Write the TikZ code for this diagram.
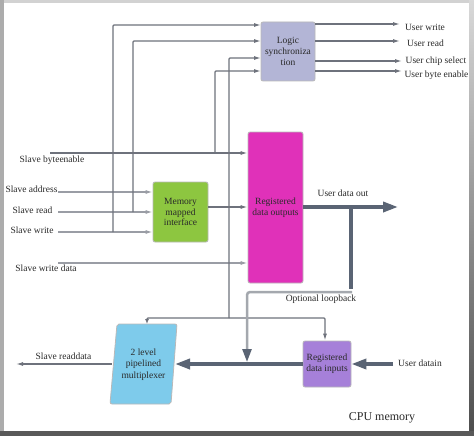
\documentclass[tikz,border=0pt]{standalone}
\usepackage{fontspec}
\setmainfont{Liberation Serif}
\newfontfamily\tnr{Liberation Serif}
\usetikzlibrary{arrows.meta,calc}
\definecolor{wirec}{HTML}{6E727C}
\definecolor{lwirec}{HTML}{9A9DA5}
\definecolor{busc}{HTML}{5A6474}
\definecolor{loopc}{HTML}{A4A8AE}
\definecolor{lsync}{HTML}{B3B5D6}
\definecolor{regout}{HTML}{E031B9}
\definecolor{mmic}{HTML}{8DC640}
\definecolor{regin}{HTML}{A680D9}
\definecolor{muxc}{HTML}{7ECBEB}
\definecolor{txt}{HTML}{2A2A2A}
\tikzset{
  lbl/.style={font=\tnr\fontsize{9.5}{11}\selectfont, text=txt, inner sep=0pt},
  blk/.style={draw=gray!55, line width=0.8pt, rounded corners=2pt, align=center,
              inner sep=1pt, font=\tnr\fontsize{9.5}{10.8}\selectfont, text=txt},
  wire/.style={draw=wirec, line width=1.2pt, rounded corners=1pt},
  warrow/.style={wire, -{Latex[length=7pt,width=4pt]}},
  lwarrow/.style={draw=lwirec, line width=1.2pt, -{Latex[length=7pt,width=4pt]}},
  bus/.style={draw=busc, line width=3.5pt},
  busarrow/.style={bus, -{Triangle[length=15pt,width=10pt]}},
}
\begin{document}
\begin{tikzpicture}[x=1pt,y=-1pt]
% frame
\useasboundingbox (0,0) rectangle (474,436);
\fill[gray!35] (0,0) rectangle (474,436);
\fill[gray!65] (0,0) rectangle (4,436);
\shade[top color=gray!30, bottom color=black!70] (469,0) rectangle (474,436);
\fill[black!65] (0,431) rectangle (474,436);
\fill[white] (4,3) rectangle (469,431);

% blocks
\node[blk, fill=lsync, minimum width=54pt, minimum height=59pt] (ls) at (288,51.5) {Logic\\synchroniza\\tion};
\node[blk, fill=regout, minimum width=55pt, minimum height=151pt] (rdo) at (275.5,207.5) {Registered\\data outputs};
\node[blk, fill=mmic, minimum width=55pt, minimum height=60pt] (mmi) at (180.5,212) {Memory\\mapped\\interface};
\node[blk, fill=regin, minimum width=48pt, minimum height=46pt] (rdi) at (327,364) {Registered\\data inputs};
\draw[fill=muxc, draw=gray!55, line width=0.8pt, rounded corners=2pt]
  (110,404) -- (117,324) -- (177,324) -- (171,404) -- cycle;
\node[lbl, align=center, font=\tnr\fontsize{9.5}{11.5}\selectfont] (mux) at (143.5,364.5) {2 level\\pipelined\\multiplexer};
\coordinate (muxN) at (147,324);
\coordinate (muxE) at (175,364);
\coordinate (muxW) at (112,364);

% left labels
\node[lbl] (lbe) at (52,160) {Slave byteenable};
\node[lbl] (lad) at (31.5,189) {Slave address};
\node[lbl] (lrd) at (32.5,210) {Slave read};
\node[lbl] (lwr) at (32,230) {Slave write};
\node[lbl] (lwd) at (46,268) {Slave write data};
\node[lbl] (lrdd) at (63.5,356) {Slave readdata};
% right labels
\node[lbl] (uw) at (425,27) {User write};
\node[lbl] (ur) at (425.5,43) {User read};
\node[lbl] (ucs) at (436,61) {User chip select};
\node[lbl] (ube) at (436.5,75.5) {User byte enable};
\node[lbl] (udo) at (343,193) {User data out};
\node[lbl] (uol) at (321,299) {Optional loopback};
\node[lbl] (udi) at (420,363) {User datain};
\node[lbl, font=\tnr\fontsize{12}{14}\selectfont] (cpu) at (382,418) {CPU memory};

% coordinates
\coordinate (sa) at (58,192);
\coordinate (sr) at (58,212);
\coordinate (sw) at (58,232);
\coordinate (sb) at (50,153);
\coordinate (swd) at (58,263);
\coordinate (jr) at (133,212);
\coordinate (jw) at (113,232);
\coordinate (jb) at (215,153);
\coordinate (jc) at (229,318);
\coordinate (ls1) at (261,25);
\coordinate (ls2) at (261,41);
\coordinate (ls3) at (261,58);
\coordinate (ls4) at (261,71);
\coordinate (mmo) at (208,207);
\coordinate (udoe) at (398,207);
\coordinate (lp) at (351,207);
\coordinate (lpb) at (351,289);
\coordinate (udis) at (393,364);
\coordinate (rdrop) at (325,318);

% slave inputs
\draw[lwarrow] (sa) -- (sa -| mmi.west);
\draw[lwarrow] (sr) -- (sr -| mmi.west);
\draw[lwarrow] (sw) -- (sw -| mmi.west);
\draw[warrow] (sb) -- (sb -| rdo.west);
\draw[lwarrow] (swd) -- (swd -| rdo.west);
\draw[warrow] (mmo) -- (mmo -| rdo.west);
% to logic synchronization
\draw[warrow] (jw) |- (ls1);
\draw[warrow] (jr) |- (ls2);
\draw[warrow] (jc) |- (ls3);
\draw[warrow] (jb) |- (ls4);
% logic outputs
\draw[warrow] (ls.east |- 0,24) -- (400,24);
\draw[warrow] (ls.east |- 0,41) -- (400,41);
\draw[warrow] (ls.east |- 0,61) -- (402,61);
\draw[warrow] (ls.east |- 0,71) -- (402,71);
% control distribution
\draw[wire, -{Latex[length=5pt,width=4pt]}] (jc) -| (muxN);
\draw[warrow] (jc) -| (rdi.north -| rdrop);
% data paths
\draw[busarrow] (rdo.east |- lp) -- (udoe);
\draw[bus] (lp) -- (lpb);
\draw[draw=loopc, line width=2.5pt, rounded corners=3pt,
      -{Triangle[length=13pt,width=9pt,color=busc]}] (352,292) -- (247,292) -- (247,362);
\draw[busarrow] (rdi.west) -- (muxE);
\draw[busarrow] (udis) -- (rdi.east);
\draw[warrow] (muxW) -- (16,364);
\end{tikzpicture}
\end{document}
